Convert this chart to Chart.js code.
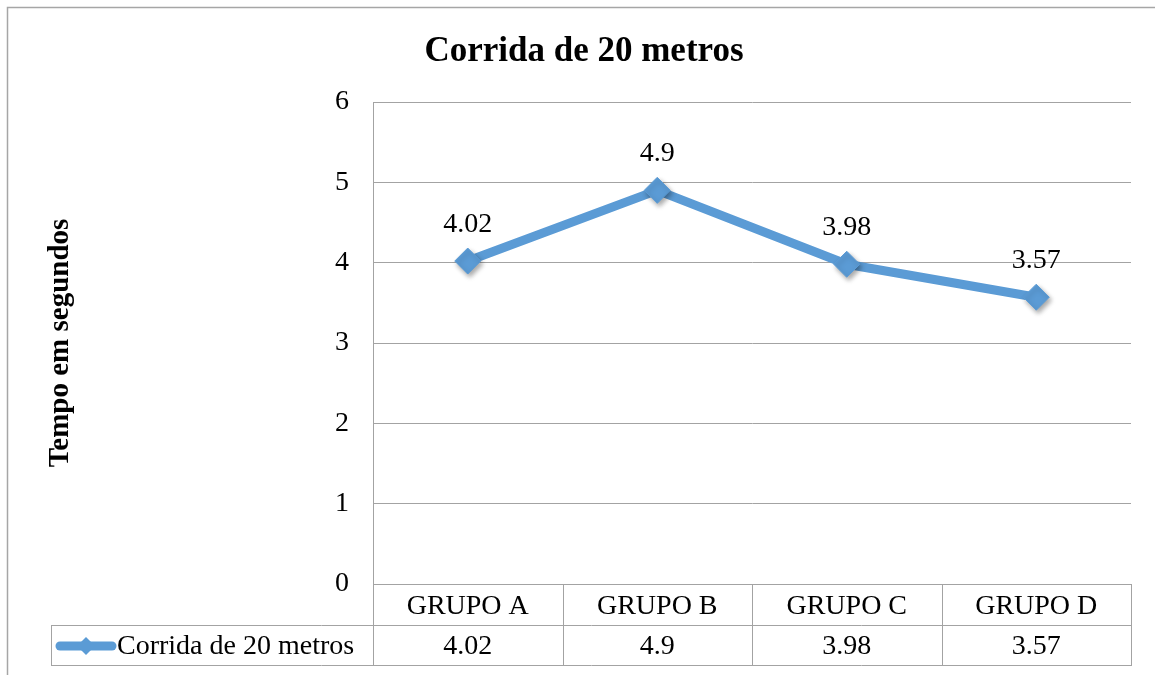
<!DOCTYPE html>
<html>
<head>
<meta charset="utf-8">
<script src="https://cdn.jsdelivr.net/npm/chart.js@4.4.0/dist/chart.umd.min.js"></script>
<style>
html,body{margin:0;padding:0;background:#fff;}
#wrap{width:1155px;height:675px;position:relative;}
</style>
</head>
<body>
<div id="wrap"><canvas id="chart" width="1155" height="675"></canvas></div>
<script>
// data
const categories = ['GRUPO A', 'GRUPO B', 'GRUPO C', 'GRUPO D'];
const seriesName = 'Corrida de 20 metros';
const times = [4.02, 4.9, 3.98, 3.57];
const yTicks = [0, 1, 2, 3, 4, 5, 6];

const SERIF = "'Liberation Serif', 'Times New Roman', serif";
const BLUE = '#5b9bd5';
const GRID = '#a3a3a3';

// outer frame of the chart (top + left edges only are visible)
const framePlugin = {
  id: 'frame',
  beforeDraw(chart){
    const ctx = chart.ctx;
    ctx.save();
    ctx.strokeStyle = '#a6a6a6';
    ctx.lineWidth = 1.5;
    ctx.beginPath();
    ctx.moveTo(7.5, 675);
    ctx.lineTo(7.5, 7.5);
    ctx.lineTo(1155, 7.5);
    ctx.stroke();
    ctx.restore();
  }
};

// soft shadow under the diamond markers
const shadowPlugin = {
  id: 'markerShadow',
  beforeDatasetDraw(chart, args){
    if(args.index !== 1) return;
    const ctx = chart.ctx;
    ctx.save();
    ctx.shadowColor = 'rgba(0,0,0,0.35)';
    ctx.shadowBlur = 5;
    ctx.shadowOffsetX = 2;
    ctx.shadowOffsetY = 3;
  },
  afterDatasetDraw(chart, args){
    if(args.index !== 1) return;
    chart.ctx.restore();
  }
};

// value labels above each point
const labelPlugin = {
  id: 'valueLabels',
  afterDatasetsDraw(chart){
    const ctx = chart.ctx;
    const meta = chart.getDatasetMeta(1);
    ctx.save();
    ctx.font = '28px ' + SERIF;
    ctx.fillStyle = '#000';
    ctx.textAlign = 'center';
    ctx.textBaseline = 'alphabetic';
    meta.data.forEach((pt, i) => {
      ctx.fillText(String(times[i]), pt.x, pt.y - 29);
    });
    ctx.restore();
  }
};

// data table under the plot, columns taken from the x scale
const tablePlugin = {
  id: 'dataTable',
  afterDraw(chart){
    const ctx = chart.ctx;
    const xs = chart.scales.x;
    const area = chart.chartArea;
    const top = area.bottom;
    const mid = top + 41;
    const bot = mid + 40;
    const keyLeft = 51.5;
    const edges = categories.map((c, i) => Math.round(xs.getPixelForValue(i - 0.5)) + 0.5);
    edges.push(Math.round(xs.getPixelForValue(categories.length - 0.5)) + 0.5);
    const R = edges[edges.length - 1];

    ctx.save();
    ctx.strokeStyle = GRID;
    ctx.lineWidth = 1;
    ctx.beginPath();
    // horizontal lines
    ctx.moveTo(keyLeft, mid + 0.5); ctx.lineTo(R, mid + 0.5);
    ctx.moveTo(keyLeft, bot + 0.5); ctx.lineTo(R, bot + 0.5);
    // verticals
    ctx.moveTo(keyLeft, mid); ctx.lineTo(keyLeft, bot + 1);
    edges.forEach(x => { ctx.moveTo(x, top); ctx.lineTo(x, bot + 1); });
    ctx.stroke();

    ctx.font = '28px ' + SERIF;
    ctx.fillStyle = '#000';
    ctx.textAlign = 'center';
    ctx.textBaseline = 'middle';
    categories.forEach((c, i) => {
      const cx = xs.getPixelForValue(i);
      ctx.fillText(c, cx, (top + mid) / 2 + 2);
      ctx.fillText(String(times[i]), cx, (mid + bot) / 2 + 2);
    });

    // legend key
    const ky = (mid + bot) / 2 + 1;
    ctx.strokeStyle = BLUE;
    ctx.lineWidth = 9;
    ctx.lineCap = 'round';
    ctx.beginPath();
    ctx.moveTo(60, ky); ctx.lineTo(112, ky);
    ctx.stroke();
    ctx.fillStyle = BLUE;
    ctx.beginPath();
    ctx.moveTo(86, ky - 9); ctx.lineTo(95, ky); ctx.lineTo(86, ky + 9); ctx.lineTo(77, ky);
    ctx.closePath();
    ctx.fill();

    ctx.fillStyle = '#000';
    ctx.textAlign = 'left';
    ctx.fillText(seriesName, 117, ky + 1);
    ctx.restore();
  }
};

new Chart(document.getElementById('chart'), {
  type: 'line',
  data: {
    labels: categories,
    datasets: [
      {
        label: seriesName,
        data: times,
        borderColor: BLUE,
        borderWidth: 9,
        borderCapStyle: 'round',
        borderJoinStyle: 'round',
        pointRadius: 0,
        tension: 0,
        fill: false,
        order: 2
      },
      {
        label: seriesName,
        data: times,
        showLine: false,
        pointStyle: 'rectRot',
        pointRadius: 13,
        backgroundColor: BLUE,
        borderColor: BLUE,
        borderWidth: 1,
        order: 1
      }
    ]
  },
  options: {
    responsive: false,
    animation: false,
    devicePixelRatio: 1,
    layout: { padding: { left: 37, right: 24, top: 0, bottom: 0 } },
    plugins: {
      legend: { display: false },
      tooltip: { enabled: false },
      title: {
        display: true,
        text: seriesName,
        color: '#000',
        font: { family: SERIF, size: 35, weight: 'bold', lineHeight: 1.2 },
        padding: { top: 31, bottom: 29 }
      }
    },
    scales: {
      x: {
        type: 'category',
        offset: true,
        grid: { display: false },
        border: { display: false },
        ticks: { display: false },
        afterFit(s){ s.height = 91; }
      },
      y: {
        min: 0,
        max: 6,
        afterBuildTicks(s){ s.ticks = yTicks.map(v => ({ value: v })); },
        afterFit(s){ s.width = 336; },
        grid: { color: GRID, lineWidth: 1, drawTicks: false },
        border: { display: true, color: GRID, width: 1 },
        ticks: {
          color: '#000',
          padding: 24,
          font: { family: SERIF, size: 28 }
        },
        title: {
          display: true,
          text: 'Tempo em segundos',
          color: '#000',
          font: { family: SERIF, size: 29, weight: 'bold', lineHeight: 1.2 },
          padding: { top: 6, bottom: 0 }
        }
      }
    }
  },
  plugins: [framePlugin, shadowPlugin, labelPlugin, tablePlugin]
});
</script>
</body>
</html>
